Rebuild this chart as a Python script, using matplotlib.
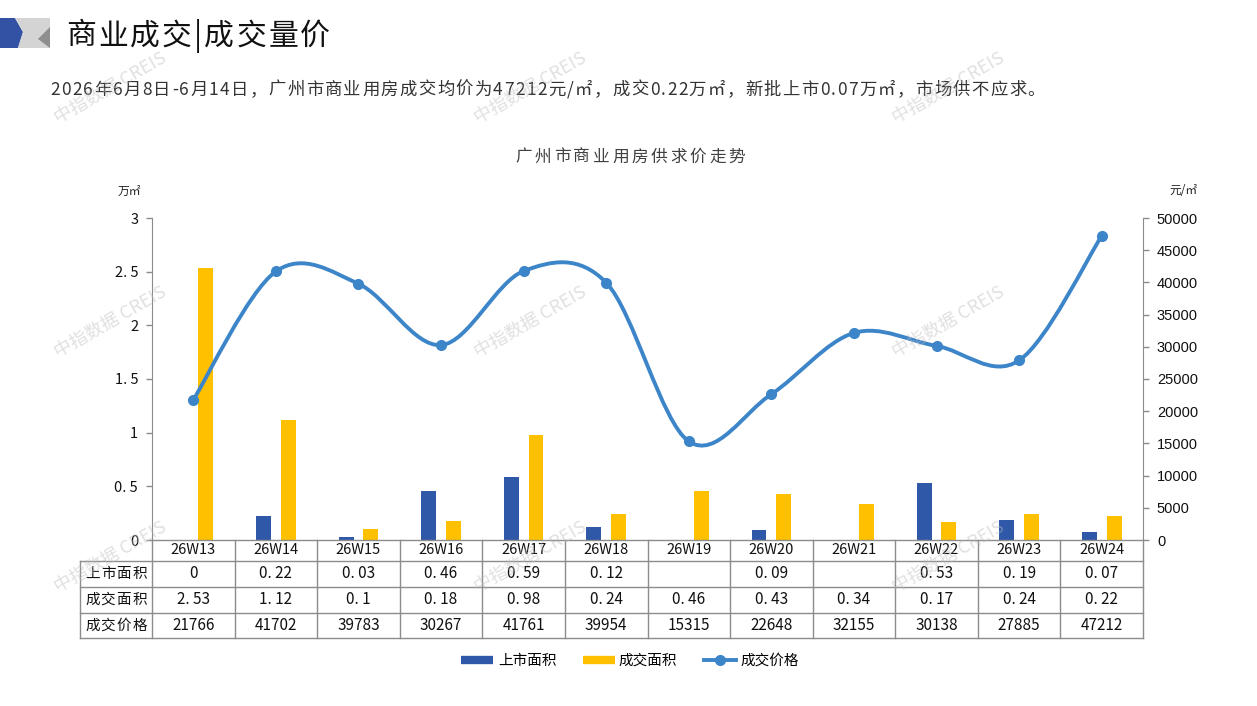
import numpy as np
import matplotlib
matplotlib.use("Agg")
import matplotlib.pyplot as plt
from matplotlib.path import Path
from matplotlib.patches import PathPatch, Polygon
from matplotlib.lines import Line2D

plt.rcParams['font.family'] = ['Noto Sans CJK SC', 'DejaVu Sans']

weeks = ['26W13', '26W14', '26W15', '26W16', '26W17', '26W18',
         '26W19', '26W20', '26W21', '26W22', '26W23', '26W24']
supply = [0, 0.22, 0.03, 0.46, 0.59, 0.12, None, 0.09, None, 0.53, 0.19, 0.07]
deal = [2.53, 1.12, 0.1, 0.18, 0.98, 0.24, 0.46, 0.43, 0.34, 0.17, 0.24, 0.22]
price = [21766, 41702, 39783, 30267, 41761, 39954, 15315, 22648, 32155, 30138, 27885, 47212]
row_names = ['上市面积', '成交面积', '成交价格']

BLUE = '#2F58A8'
YELLOW = '#FFC000'
LINE = '#3D85C9'
GRID = '#8C8C8C'

W, H = 1257, 706
fig = plt.figure(figsize=(W / 100, H / 100), dpi=100)
renderer = fig.canvas.get_renderer()


def fx(px):
    return px / W


def fy(py):
    return 1 - py / H


def fit_text(x0, x1, y, s, size, **kw):
    # lay out characters one by one so the string spans x0..x1 (letter spacing)
    arts = [fig.text(0, fy(y), ch, fontsize=size, va='center', ha='left', **kw) for ch in s]
    widths = [a.get_window_extent(renderer).width for a in arts]
    gap = (x1 - x0 - sum(widths)) / max(len(s) - 1, 1)
    cur = x0
    for a, w in zip(arts, widths):
        a.set_x(fx(cur))
        cur += w + gap


# header icon
fig.patches.append(Polygon([(fx(0), fy(18)), (fx(15), fy(18)), (fx(23), fy(32)), (fx(18), fy(48)), (fx(0), fy(48))],
                           closed=True, transform=fig.transFigure, facecolor='#3452A4', edgecolor='none'))
fig.patches.append(Polygon([(fx(15), fy(18)), (fx(50), fy(18)), (fx(50), fy(48)), (fx(18), fy(48)), (fx(23), fy(32))],
                           closed=True, transform=fig.transFigure, facecolor='#D4D4D4', edgecolor='none'))
fig.patches.append(Polygon([(fx(50), fy(27)), (fx(38), fy(39)), (fx(50), fy(48))],
                           closed=True, transform=fig.transFigure, facecolor='#8E8E8E', edgecolor='none'))

fit_text(66, 330, 36, '商业成交|成交量价', 21.5, color='#111111')
fit_text(50, 1045, 90, '2026年6月8日-6月14日，广州市商业用房成交均价为47212元/㎡，成交0.22万㎡，新批上市0.07万㎡，市场供不应求。',
         12.5, color='#333333')
fit_text(515, 745, 157, '广州市商业用房供求价走势', 12, color='#404040')

L, R, T, B = 152, 1143, 218, 540
ax = fig.add_axes([fx(L), fy(B), fx(R) - fx(L), fy(T) - fy(B)])
ax2 = ax.twinx()

x = np.arange(len(weeks))
bw = 0.18
sup_vals = [np.nan if v is None else v for v in supply]
ax.bar(x - 0.15, sup_vals, width=bw, color=BLUE, zorder=2)
ax.bar(x + 0.15, deal, width=bw, color=YELLOW, zorder=2)
ax.set_xlim(-0.5, len(weeks) - 0.5)
ax.set_ylim(0, 3)
ax.set_yticks(np.arange(0, 3.01, 0.5))
ax.set_yticklabels(['0', '0. 5', '1', '1. 5', '2', '2. 5', '3'])
ax.set_xticks([])

ax2.set_ylim(0, 50000)
ax2.set_yticks(np.arange(0, 50001, 5000))
for lab in ax2.get_yticklabels():
    lab.set_family(['Liberation Sans', 'DejaVu Sans'])

for a in (ax, ax2):
    for s in ('top', 'bottom'):
        a.spines[s].set_visible(False)
    a.tick_params(axis='y', length=4, width=1, color=GRID, labelsize=10.5, labelcolor='#111111', pad=6)
ax.spines['right'].set_visible(False)
ax2.spines['left'].set_visible(False)
ax.spines['left'].set_color(GRID)
ax2.spines['right'].set_color(GRID)

# smooth price line (bezier built from the data points)
pts = np.column_stack([x, price]).astype(float)
verts = [tuple(pts[0])]
codes = [Path.MOVETO]
n = len(pts)
for i in range(n - 1):
    p0 = pts[max(i - 1, 0)]
    p1 = pts[i]
    p2 = pts[i + 1]
    p3 = pts[min(i + 2, n - 1)]
    c1 = p1 + (p2 - p0) / 6
    c2 = p2 - (p3 - p1) / 6
    verts += [tuple(c1), tuple(c2), tuple(p2)]
    codes += [Path.CURVE4] * 3
ax2.add_patch(PathPatch(Path(verts, codes), facecolor='none', edgecolor=LINE, lw=2.8, zorder=3,
                        capstyle='round', joinstyle='round'))
ax2.plot(x, price, 'o', color=LINE, markersize=7, zorder=4)

fig.text(fx(129), fy(191), '万㎡', fontsize=8.5, ha='center', va='center', color='#222222')
fig.text(fx(1183), fy(191), '元/㎡', fontsize=8.5, ha='center', va='center', color='#222222')

# data table under the axis
rows_y = [540, 561, 587, 613, 638]
colw = (R - L) / len(weeks)
TL = 80
lines = [((L, R), (rows_y[0], rows_y[0]))]
for yy in rows_y[1:]:
    lines.append(((TL, R), (yy, yy)))
lines.append(((TL, TL), (rows_y[1], rows_y[-1])))
for j in range(len(weeks) + 1):
    xx = L + j * colw
    lines.append(((xx, xx), (rows_y[0], rows_y[-1])))
for (xs, ys) in lines:
    fig.add_artist(Line2D([fx(v) for v in xs], [fy(v) for v in ys], transform=fig.transFigure,
                          color=GRID, lw=1.0))


def fmt(v):
    if v is None:
        return ''
    if isinstance(v, float):
        return ('%g' % v).replace('.', '. ')
    return str(v)


table_rows = [supply, deal, price]
for j, wk in enumerate(weeks):
    cx = fx(L + (j + 0.5) * colw)
    fig.text(cx, fy((rows_y[0] + rows_y[1]) / 2), wk, fontsize=10.5, ha='center', va='center', color='#111111')
    for r, vals in enumerate(table_rows):
        cy = fy((rows_y[r + 1] + rows_y[r + 2]) / 2)
        fig.text(cx, cy, fmt(vals[j]), fontsize=11, ha='center', va='center', color='#111111')
for r, name in enumerate(row_names):
    fit_text(85, 147, (rows_y[r + 1] + rows_y[r + 2]) / 2, name, 10.5, color='#111111')

# legend
handles = [Line2D([], [], color=BLUE, lw=6, solid_capstyle='butt'),
           Line2D([], [], color=YELLOW, lw=6, solid_capstyle='butt'),
           Line2D([], [], color=LINE, lw=2.8, marker='o', markersize=7)]
fig.legend(handles, ['上市面积', '成交面积', '成交价格'], loc='center', bbox_to_anchor=(fx(630), fy(661)),
           ncol=3, frameon=False, fontsize=10.5, handlelength=2.2, columnspacing=1.8, handletextpad=0.3)

# watermarks
for wx in (110, 530, 948):
    for wy in (88, 322, 557):
        fig.text(fx(wx), fy(wy), '中指数据 CREIS', fontsize=13, rotation=30, ha='center', va='center',
                 color='#BBBBBB', alpha=0.45, zorder=10)

fig.savefig('out.png', dpi=100)
